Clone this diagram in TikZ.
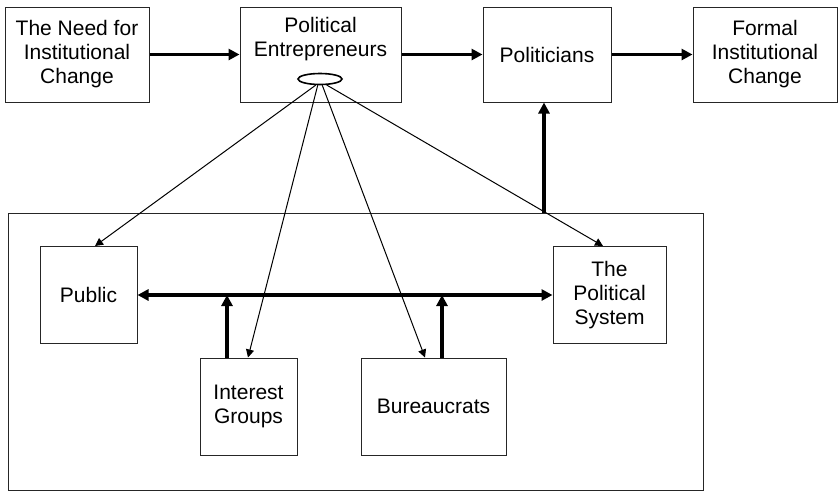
\documentclass[tikz,border=0pt]{standalone}
\usepackage{fontspec}
\setmainfont{Liberation Sans}
\usetikzlibrary{arrows.meta,shapes.geometric}
\begin{document}
\begin{tikzpicture}[x=1pt,y=-1pt,
  box/.style={draw=black!85,line width=1pt,fill=white,align=center,inner sep=0pt,
    font=\fontsize{21}{24}\selectfont},
  thick arr/.style={line width=3.8pt,-{Triangle[length=11pt,width=11pt]}},
  both arr/.style={line width=3.8pt,{Triangle[length=11pt,width=11pt]}-{Triangle[length=11pt,width=11pt]}},
  thin arr/.style={line width=1pt,-{Triangle[length=8pt,width=8pt]}}]
\useasboundingbox (0,0) rectangle (838,491);
% outer frame
\node[draw=black!85,line width=1pt,minimum width=695pt,minimum height=277pt,inner sep=0pt] (frame) at (355.5,351.5) {};
% top row
\node[box,minimum width=144pt,minimum height=95pt] (need) at (77,54.5) {The Need for\\Institutional\\Change};
\node[box,minimum width=161pt,minimum height=95pt] (pe) at (320.5,54.5) {Political\\Entrepreneurs\\[12pt]};
\node[box,minimum width=128pt,minimum height=95pt] (pol) at (547,54.5) {Politicians};
\node[box,minimum width=144pt,minimum height=95pt] (formal) at (765,54.5) {Formal\\Institutional\\Change};
% inner boxes
\node[box,minimum width=97pt,minimum height=97pt] (public) at (88.5,295) {Public};
\node[box,minimum width=97pt,minimum height=97pt] (ig) at (248.5,406.5) {Interest\\Groups};
\node[box,minimum width=145pt,minimum height=97pt] (bur) at (433.5,406.5) {Bureaucrats};
\node[box,minimum width=113pt,minimum height=97pt] (ps) at (609.5,295) {The\\Political\\System};
% ellipse
\node[draw,ellipse,line width=1.6pt,fill=white,minimum width=44pt,minimum height=11pt,inner sep=0pt] (ell) at (320,79) {};
% top arrows
\draw[thick arr] (need) -- (pe);
\draw[thick arr] (pe) -- (pol);
\draw[thick arr] (pol) -- (formal);
% politicians from frame
\coordinate (fp) at (544,213);
\draw[thick arr] (fp) -- (pol.south -| fp);
% horizontal bus
\draw[both arr] (public.east) -- (ps.west);
\coordinate (j1) at (227,295);
\coordinate (j2) at (442,295);
\draw[thick arr] (ig.north -| j1) -- (j1);
\draw[thick arr] (bur.north -| j2) -- (j2);
% thin arrows from ellipse
\draw[thin arr] (ell.235) -- (public.north -| 95,0);
\draw[thin arr] (ell.250) -- (ig.north -| 248,0);
\draw[thin arr] (ell.290) -- (bur.north -| 425,0);
\draw[thin arr] (ell.318) -- (ps.north -| 603,0);
\end{tikzpicture}
\end{document}
